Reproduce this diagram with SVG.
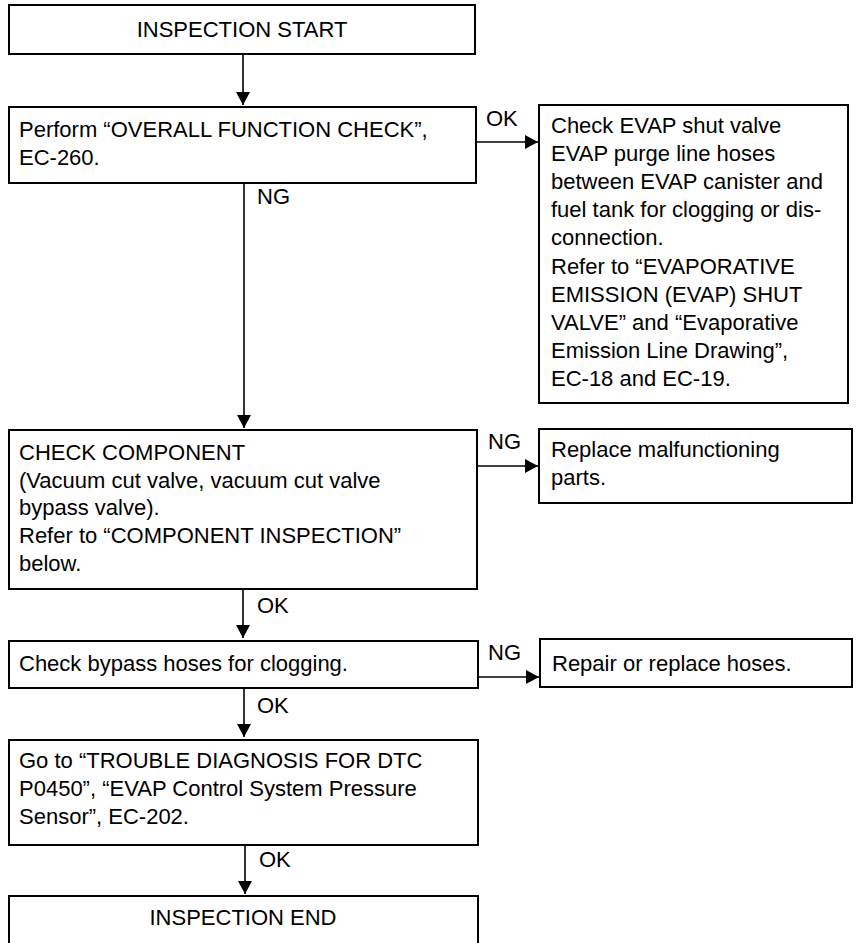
<svg xmlns="http://www.w3.org/2000/svg" width="859" height="943" viewBox="0 0 859 943">
<style>
.box{fill:#fff;stroke:#000;stroke-width:2}
.t{font-family:"Liberation Sans",Arial,sans-serif;font-size:22px;fill:#000}
.c{text-anchor:middle}
.ln{stroke:#000;stroke-width:1.6;fill:none}
</style>
<defs>
<marker id="ah" markerWidth="14" markerHeight="14" refX="13" refY="7" orient="auto" markerUnits="userSpaceOnUse">
<path d="M0,0 L13,7 L0,14 Z" fill="#000"/>
</marker>
</defs>
<rect width="859" height="943" fill="#fff"/>
<g id="connectors">
<line class="ln" x1="243" y1="54" x2="243" y2="105" marker-end="url(#ah)"/>
<line class="ln" x1="476" y1="142" x2="538" y2="142" marker-end="url(#ah)"/>
<text class="t" x="486" y="126">OK</text>
<line class="ln" x1="244" y1="183" x2="244" y2="428" marker-end="url(#ah)"/>
<text class="t" x="257" y="204">NG</text>
<line class="ln" x1="477" y1="466" x2="538" y2="466" marker-end="url(#ah)"/>
<text class="t" x="488" y="449">NG</text>
<line class="ln" x1="243" y1="589" x2="243" y2="638" marker-end="url(#ah)"/>
<text class="t" x="257" y="613">OK</text>
<line class="ln" x1="478" y1="677" x2="539" y2="677" marker-end="url(#ah)"/>
<text class="t" x="488" y="660">NG</text>
<line class="ln" x1="244" y1="688" x2="244" y2="737" marker-end="url(#ah)"/>
<text class="t" x="257" y="713">OK</text>
<line class="ln" x1="245" y1="845" x2="245" y2="894" marker-end="url(#ah)"/>
<text class="t" x="259" y="867">OK</text>
</g>
<g id="start">
<rect class="box" x="9" y="5" width="466" height="49"/>
<text class="t c" x="242" y="37">INSPECTION START</text>
</g>
<g id="overall">
<rect class="box" x="9" y="107" width="467" height="76"/>
<text class="t" x="19" y="137">Perform “OVERALL FUNCTION CHECK”,</text>
<text class="t" x="19" y="165">EC-260.</text>
</g>
<g id="evap">
<rect class="box" x="539" y="105" width="309" height="298"/>
<text class="t" x="551" y="133">Check EVAP shut valve</text>
<text class="t" x="551" y="161">EVAP purge line hoses</text>
<text class="t" x="551" y="189">between EVAP canister and</text>
<text class="t" x="551" y="217">fuel tank for clogging or dis-</text>
<text class="t" x="551" y="245">connection.</text>
<text class="t" x="551" y="274">Refer to “EVAPORATIVE</text>
<text class="t" x="551" y="302">EMISSION (EVAP) SHUT</text>
<text class="t" x="551" y="330">VALVE” and “Evaporative</text>
<text class="t" x="551" y="358">Emission Line Drawing”,</text>
<text class="t" x="551" y="386">EC-18 and EC-19.</text>
</g>
<g id="component">
<rect class="box" x="9" y="430" width="468" height="159"/>
<text class="t" x="19" y="460">CHECK COMPONENT</text>
<text class="t" x="19" y="488">(Vacuum cut valve, vacuum cut valve</text>
<text class="t" x="19" y="515">bypass valve).</text>
<text class="t" x="19" y="543">Refer to “COMPONENT INSPECTION”</text>
<text class="t" x="19" y="571">below.</text>
</g>
<g id="replace">
<rect class="box" x="539" y="429" width="313" height="74"/>
<text class="t" x="551" y="457">Replace malfunctioning</text>
<text class="t" x="551" y="485">parts.</text>
</g>
<g id="bypass">
<rect class="box" x="9" y="641" width="469" height="47"/>
<text class="t" x="19" y="671">Check bypass hoses for clogging.</text>
</g>
<g id="repair">
<rect class="box" x="540" y="639" width="312" height="48"/>
<text class="t" x="552" y="671">Repair or replace hoses.</text>
</g>
<g id="dtc">
<rect class="box" x="9" y="740" width="469" height="105"/>
<text class="t" x="19" y="768">Go to “TROUBLE DIAGNOSIS FOR DTC</text>
<text class="t" x="19" y="796">P0450”, “EVAP Control System Pressure</text>
<text class="t" x="19" y="824">Sensor”, EC-202.</text>
</g>
<g id="end">
<rect class="box" x="9" y="896" width="469" height="70"/>
<text class="t c" x="243" y="925">INSPECTION END</text>
</g>
</svg>
